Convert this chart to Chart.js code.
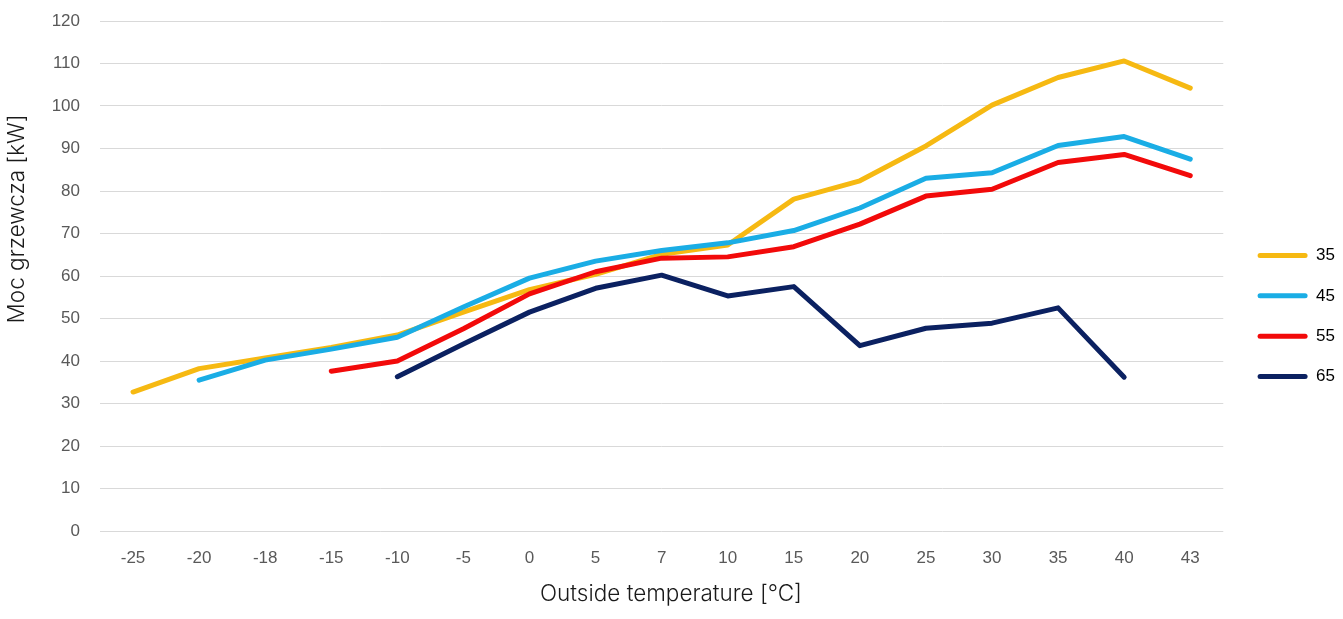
<!DOCTYPE html>
<html>
<head>
<meta charset="utf-8">
<script src="https://cdn.jsdelivr.net/npm/chart.js@4"></script>
<style>
  html, body { margin: 0; padding: 0; background: #ffffff; overflow: hidden; }
  #wrap { position: relative; width: 1345px; height: 619px; }
</style>
</head>
<body>
<div id="wrap"><canvas id="c"></canvas></div>
<script>
const categories = ['-25','-20','-18','-15','-10','-5','0','5','7','10','15','20','25','30','35','40','43'];
const seriesNames = ['35','45','55','65'];
const s35 = [32.7, 38.2, 40.7, 43.2, 46.1, 51.5, 56.8, 60.4, 65.1, 67.3, 78.1, 82.4, 90.6, 100.2, 106.7, 110.6, 104.2];
const s45 = [null, 35.5, 40.2, 42.8, 45.6, 52.7, 59.5, 63.5, 66.0, 67.8, 70.7, 76.0, 83.0, 84.3, 90.7, 92.8, 87.5];
const s55 = [null, null, null, 37.6, 40.0, 47.6, 55.8, 61.0, 64.2, 64.5, 66.9, 72.2, 78.8, 80.4, 86.7, 88.6, 83.6];
const s65 = [null, null, null, null, 36.3, 44.0, 51.5, 57.1, 60.2, 55.3, 57.5, 43.6, 47.7, 48.9, 52.5, 36.2, null];
const colors = ['#F6B912', '#1AADE5', '#F20A0A', '#0B2161'];
const yTicksMin = 0, yTicksMax = 120, yStep = 10;
const xTitle = 'Outside temperature [°C]';
const yTitle = 'Moc grzewcza [kW]';

const tickFont = { family: '"Liberation Sans", Arial, sans-serif', size: 17 };
const titleFontCss = '300 22.5px Inter, "Open Sans", sans-serif';

const seriesValues = [s35, s45, s55, s65];
const datasets = seriesValues.map((vals, i) => ({
  label: seriesNames[i],
  data: vals,
  borderColor: colors[i],
  backgroundColor: colors[i],
  borderWidth: 5,
  pointRadius: 0,
  pointHoverRadius: 0,
  tension: 0,
  borderJoinStyle: 'round',
  borderCapStyle: 'round',
  fill: false,
  order: seriesValues.length - i
}));

// Axis titles, placed like the original (x title centred on the whole chart, y title above plot middle)
const axisTitlePlugin = {
  id: 'axisTitlePlugin',
  afterDraw(chart) {
    const {ctx, chartArea} = chart;
    ctx.save();
    ctx.font = titleFontCss;
    ctx.fillStyle = '#1a1a1a';
    ctx.textAlign = 'center';
    ctx.textBaseline = 'middle';
    ctx.fillText(xTitle, 671, chart.height - 25);
    ctx.translate(17, chartArea.top + (chartArea.bottom - chartArea.top) * 0.388);
    ctx.rotate(-Math.PI / 2);
    ctx.fillText(yTitle, 0, 0);
    ctx.restore();
  }
};

new Chart(document.getElementById('c'), {
  type: 'line',
  data: { labels: categories, datasets },
  plugins: [axisTitlePlugin],
  options: {
    responsive: true,
    maintainAspectRatio: false,
    animation: false,
    layout: { padding: { top: 13, left: 0, right: 0, bottom: 0 } },
    plugins: {
      tooltip: { enabled: false },
      legend: {
        position: 'right',
        labels: {
          boxWidth: 50,
          boxHeight: 5,
          padding: 23.3,
          color: '#595959',
          font: tickFont,
          sort: (a, b) => a.datasetIndex - b.datasetIndex,
          generateLabels(chart) {
            return chart.data.datasets.map((ds, i) => ({
              text: ds.label,
              fillStyle: ds.borderColor,
              strokeStyle: ds.borderColor,
              lineWidth: 0,
              hidden: false,
              datasetIndex: i,
              borderRadius: 2.5
            }));
          }
        }
      }
    },
    scales: {
      x: {
        type: 'category',
        offset: true,
        grid: { display: false, drawTicks: false },
        border: { display: false },
        ticks: {
          color: '#595959',
          padding: 17,
          maxRotation: 0,
          autoSkip: false,
          font: tickFont
        },
        title: { display: false },
        afterFit(scale) { scale.height = 88; }
      },
      y: {
        type: 'linear',
        min: yTicksMin,
        max: yTicksMax,
        grid: { color: '#d9d9d9', lineWidth: 1, drawTicks: false },
        border: { display: false },
        ticks: {
          stepSize: yStep,
          color: '#595959',
          padding: 20,
          font: tickFont
        },
        afterFit(scale) { scale.width = 100; scale.paddingTop = 21; }
      },
      gap: {
        type: 'linear',
        position: 'right',
        display: true,
        grid: { display: false, drawTicks: false },
        border: { display: false },
        ticks: { display: false },
        afterFit(scale) { scale.width = 11; }
      }
    }
  }
});
</script>
</body>
</html>
